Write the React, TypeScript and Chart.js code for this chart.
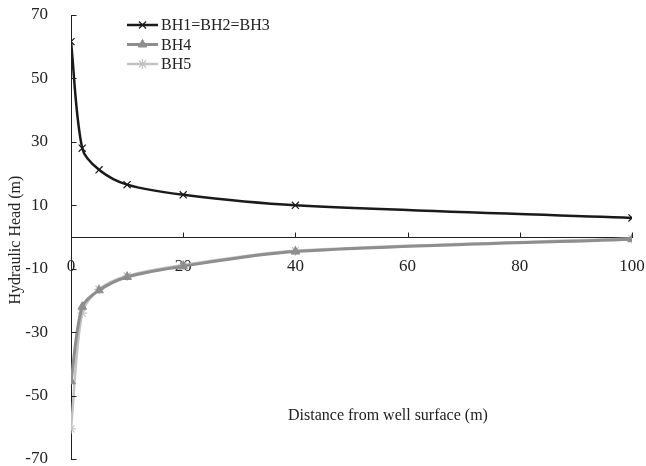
import React, { useEffect, useRef } from "react";
import { Chart, registerables } from "chart.js";
import { drawPoint } from "chart.js/helpers";

Chart.register(...registerables);

const distances = [0, 2, 5, 10, 20, 40, 100];
const bh123 = [61.6, 28, 21.2, 16.5, 13.3, 10, 6];
const bh4 = [-45.5, -22, -16.8, -12.6, -9.2, -4.6, -0.7];
const bh5 = [-60.5, -24, -16.5, -12.3, -8.8, -4.3, -0.5];
const seriesNames = ["BH1=BH2=BH3", "BH4", "BH5"];
const xTitle = "Distance from well surface (m)";
const yTitle = "Hydraulic Head (m)";

const FONT = "'Liberation Serif', 'Times New Roman', serif";
const TEXT = "#222";
const AXIS = "#222";

const toPts = (ys: number[]) => distances.map((x, i) => ({ x, y: ys[i] }));

const tickPlugin = {
  id: "innerTicks",
  afterDatasetsDraw(chart: any) {
    const ctx = chart.ctx;
    const xs = chart.scales.x;
    const ys = chart.scales.y;
    const y0 = Math.round(ys.getPixelForValue(0)) + 0.5;
    const x0 = Math.round(xs.getPixelForValue(0)) + 0.5;
    ctx.save();
    ctx.strokeStyle = AXIS;
    ctx.lineWidth = 1;
    ctx.beginPath();
    xs.ticks.forEach((t: any) => {
      if (t.value === 0) return;
      const px = Math.round(xs.getPixelForValue(t.value)) + 0.5;
      ctx.moveTo(px, y0);
      ctx.lineTo(px, y0 - 5);
    });
    ys.ticks.forEach((t: any) => {
      const py = Math.round(ys.getPixelForValue(t.value)) + 0.5;
      ctx.moveTo(x0, py);
      ctx.lineTo(x0 + 5, py);
    });
    ctx.stroke();
    ctx.restore();
  },
};

const overlayPlugin = {
  id: "overlay",
  afterDraw(chart: any) {
    const ctx = chart.ctx;
    const xs = chart.scales.x;
    const ys = chart.scales.y;
    ctx.save();
    ctx.fillStyle = TEXT;
    ctx.font = `16px ${FONT}`;
    ctx.textAlign = "center";
    ctx.textBaseline = "middle";
    ctx.fillText(xTitle, xs.getPixelForValue(56.5), ys.getPixelForValue(-56.5));
    ctx.save();
    ctx.translate(16, ys.getPixelForValue(-1));
    ctx.rotate(-Math.PI / 2);
    ctx.fillText(yTitle, 0, 0);
    ctx.restore();
    const left = chart.chartArea.left;
    const top = chart.chartArea.top;
    chart.data.datasets.forEach((ds: any, i: number) => {
      const cy = top + 10 + i * 19.5;
      const lx0 = left + 56;
      const lx1 = left + 87;
      ctx.strokeStyle = ds.borderColor;
      ctx.lineWidth = ds.borderWidth;
      ctx.beginPath();
      ctx.moveTo(lx0, cy);
      ctx.lineTo(lx1, cy);
      ctx.stroke();
      ctx.fillStyle = ds.pointBackgroundColor;
      ctx.strokeStyle = ds.pointBorderColor;
      ctx.lineWidth = ds.pointBorderWidth;
      drawPoint(ctx, { pointStyle: ds.pointStyle, radius: ds.pointRadius, borderWidth: ds.pointBorderWidth, rotation: 0 } as any, (lx0 + lx1) / 2, cy);
      ctx.fillStyle = TEXT;
      ctx.textAlign = "left";
      ctx.textBaseline = "middle";
      ctx.font = `16px ${FONT}`;
      ctx.fillText(ds.label, lx1 + 3, cy + 1);
    });
    ctx.restore();
  },
};

const zeroPad = (s: any) => {
  s.paddingLeft = 0;
  s.paddingRight = 0;
  s.paddingTop = 0;
  s.paddingBottom = 0;
};

export default function App() {
  const ref = useRef<HTMLCanvasElement>(null);
  useEffect(() => {
    document.body.style.margin = "0";
    const chart = new Chart(ref.current!, {
      type: "line",
      data: {
        datasets: [
          {
            label: seriesNames[0],
            data: toPts(bh123),
            borderColor: "#1a1a1a",
            borderWidth: 2.5,
            pointStyle: "crossRot",
            pointRadius: 5,
            pointBorderColor: "#1a1a1a",
            pointBackgroundColor: "#1a1a1a",
            pointBorderWidth: 1.2,
            tension: 0.3,
          },
          {
            label: seriesNames[1],
            data: toPts(bh4),
            borderColor: "#8e8e8e",
            borderWidth: 3,
            pointStyle: "triangle",
            pointRadius: 5,
            pointBorderColor: "#8e8e8e",
            pointBackgroundColor: "#8e8e8e",
            pointBorderWidth: 1,
            tension: 0.3,
          },
          {
            label: seriesNames[2],
            data: toPts(bh5),
            borderColor: "#c2c2c2",
            borderWidth: 2.5,
            pointStyle: "star",
            pointRadius: 5,
            pointBorderColor: "#c2c2c2",
            pointBackgroundColor: "#c2c2c2",
            pointBorderWidth: 1.2,
            tension: 0.3,
          },
        ] as any,
      },
      options: {
        animation: false,
        responsive: false,
        layout: { padding: { left: 0, top: 15, right: 14, bottom: 7 } },
        plugins: { legend: { display: false }, tooltip: { enabled: false } },
        scales: {
          x: {
            type: "linear",
            position: { y: 0 } as any,
            min: 0,
            max: 100,
            ticks: { stepSize: 20, padding: 11, color: TEXT, font: { family: FONT, size: 17 } },
            grid: { display: false },
            border: { display: true, color: AXIS, width: 1 },
            afterFit: zeroPad,
          },
          y: {
            type: "linear",
            position: "left",
            min: -70,
            max: 70,
            ticks: { stepSize: 20, padding: 15, color: TEXT, font: { family: FONT, size: 17 } },
            grid: { display: false },
            border: { display: true, color: AXIS, width: 1 },
            afterFit: (s: any) => {
              zeroPad(s);
              s.width = 71;
            },
          },
        },
      },
      plugins: [tickPlugin, overlayPlugin],
    });
    return () => chart.destroy();
  }, []);
  return (
    <div style={{ width: 646, height: 466 }}>
      <canvas ref={ref} width={646} height={466} />
    </div>
  );
}
